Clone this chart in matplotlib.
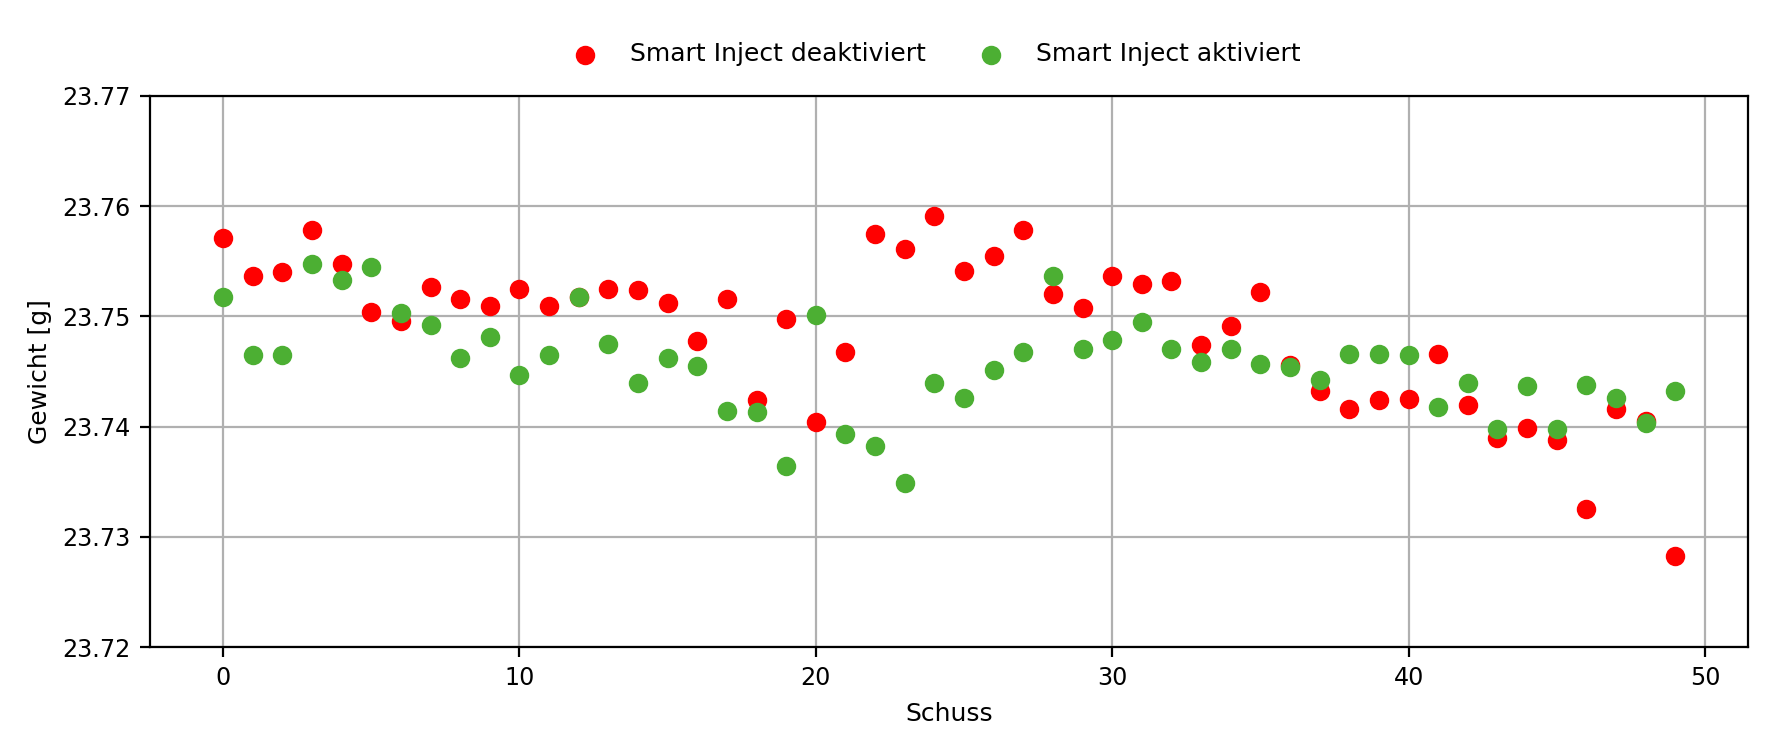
import numpy as np
import matplotlib
matplotlib.use("Agg")
import matplotlib.pyplot as plt

plt.rcParams['font.size'] = 9
plt.rcParams['xtick.labelsize'] = 8.6
plt.rcParams['ytick.labelsize'] = 8.6

# Schussgewicht pro Schuss
schuss = np.arange(50)

gewicht_deaktiviert = [
    23.7571, 23.7537, 23.7540, 23.7578, 23.7548, 23.7504, 23.7496, 23.7527, 23.7516, 23.7509,
    23.7525, 23.7509, 23.7518, 23.7525, 23.7524, 23.7512, 23.7478, 23.7516, 23.7424, 23.7498,
    23.7404, 23.7468, 23.7575, 23.7561, 23.7591, 23.7541, 23.7555, 23.7578, 23.7520, 23.7508,
    23.7537, 23.7529, 23.7532, 23.7474, 23.7491, 23.7522, 23.7456, 23.7432, 23.7416, 23.7424,
    23.7425, 23.7466, 23.7420, 23.7390, 23.7399, 23.7388, 23.7325, 23.7416, 23.7405, 23.7283,
]

gewicht_aktiviert = [
    23.7518, 23.7465, 23.7465, 23.7548, 23.7533, 23.7545, 23.7503, 23.7492, 23.7462, 23.7481,
    23.7447, 23.7465, 23.7518, 23.7475, 23.7440, 23.7462, 23.7455, 23.7414, 23.7413, 23.7364,
    23.7501, 23.7393, 23.7382, 23.7349, 23.7440, 23.7426, 23.7451, 23.7468, 23.7537, 23.7470,
    23.7479, 23.7495, 23.7470, 23.7459, 23.7470, 23.7457, 23.7454, 23.7442, 23.7466, 23.7466,
    23.7465, 23.7418, 23.7440, 23.7398, 23.7437, 23.7398, 23.7438, 23.7426, 23.7403, 23.7432,
]

fig = plt.figure(figsize=(8.87, 3.75), dpi=200)
ax = fig.add_axes([0.0848, 0.1373, 0.9005, 0.7347])

ax.scatter(schuss, gewicht_deaktiviert, color='red', label='Smart Inject deaktiviert', zorder=3)
ax.scatter(schuss, gewicht_aktiviert, color='#4caf33', label='Smart Inject aktiviert', zorder=3)

ax.set_ylim(23.72, 23.77)
ax.set_yticks([23.72, 23.73, 23.74, 23.75, 23.76, 23.77])
ax.set_xticks([0, 10, 20, 30, 40, 50])
ax.grid(True, color='#b0b0b0', linewidth=0.8)
ax.set_axisbelow(True)

ax.set_xlabel('Schuss')
ax.set_ylabel('Gewicht [g]')

ax.legend(loc='center', bbox_to_anchor=(0.488, 1.076), ncol=2, frameon=False,
          columnspacing=1.6)

fig.savefig('out.png', dpi=200)
